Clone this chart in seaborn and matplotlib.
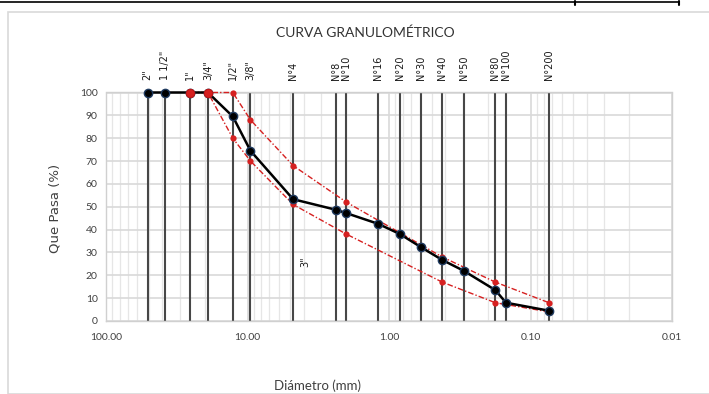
import matplotlib
matplotlib.use("Agg")
import matplotlib.pyplot as plt
import seaborn as sns
import pandas as pd
import numpy as np
from matplotlib.patches import Rectangle
from matplotlib.lines import Line2D
import matplotlib.transforms as mtransforms

# ---- data ----
sieve_labels = ['2"', '1 1/2"', '1"', '3/4"', '1/2"', '3/8"', 'N°4', 'N°8', 'N°10',
                'N°16', 'N°20', 'N°30', 'N°40', 'N°50', 'N°80', 'N°100', 'N°200']
sieve_mm = [50.8, 38.1, 25.4, 19.05, 12.7, 9.525, 4.76, 2.38, 2.0,
            1.19, 0.84, 0.59, 0.42, 0.297, 0.177, 0.149, 0.074]
passing = [100, 100, 100, 100, 89.5, 74.5, 53.3, 48.7, 47.2,
           42.5, 38.1, 32.2, 26.7, 22.0, 13.5, 8.0, 4.5]

band_mm = [25.4, 19.05, 12.7, 9.525, 4.76, 2.0, 0.42, 0.177, 0.074]
band_upper = [100, 100, 100, 88, 68, 52, 28, 17, 8]
band_lower = [100, 100, 80, 70, 51, 38, 17, 8, 4]

x_ticks = [100, 10, 1, 0.1, 0.01]
x_tick_labels = ['100.00', '10.00', '1.00', '0.10', '0.01']
y_ticks = list(range(0, 101, 10))

# ---- style ----
sns.set_theme(style="white")
plt.rcParams['font.family'] = ['Lato', 'DejaVu Sans']

W, H = 709, 394
fig = plt.figure(figsize=(W / 100, H / 100), dpi=100)
ax = fig.add_axes([106 / W, 1 - 321 / H, (672 - 106) / W, (321 - 92.5) / H])

ax.set_xscale('log')
ax.set_xlim(100, 0.01)
ax.set_ylim(0, 100)

# grids
ax.set_yticks(y_ticks)
ax.set_xticks(x_ticks)
ax.set_xticklabels(x_tick_labels)
ax.xaxis.set_minor_locator(matplotlib.ticker.LogLocator(base=10, subs=np.arange(2, 10)))
ax.xaxis.set_minor_formatter(matplotlib.ticker.NullFormatter())
ax.grid(True, which='major', axis='both', color='#d9d9d9', lw=1.2)
ax.grid(True, which='minor', axis='x', color='#e6e6e6', lw=0.9)
for s in ax.spines.values():
    s.set_color('#d0d0d0')
    s.set_linewidth(1.0)
ax.tick_params(axis='both', which='both', length=0, labelsize=7.5, colors='#404040', pad=6)
ax.tick_params(axis='x', pad=9)

# sieve vertical lines
ax.vlines(sieve_mm, 0, 100, color='#474747', lw=1.5, zorder=2)

# band lines
df_up = pd.DataFrame({'d': band_mm, 'p': band_upper})
df_lo = pd.DataFrame({'d': band_mm, 'p': band_lower})
for df in (df_up, df_lo):
    sns.lineplot(data=df, x='d', y='p', ax=ax, sort=False, color='#d62020',
                 lw=1.0, marker='o', markersize=4.5, markeredgewidth=0,
                 zorder=3, estimator=None, clip_on=False)
for l in ax.lines:
    l.set_dashes([4, 1.5, 1, 1.5])

# main curve
df_main = pd.DataFrame({'d': sieve_mm, 'p': passing})
sns.lineplot(data=df_main, x='d', y='p', ax=ax, sort=False, color='black', lw=1.8,
             marker='o', markersize=6, markeredgecolor='#1f3a5f', markeredgewidth=1.0,
             zorder=4, estimator=None, clip_on=False)
# red points overlapping at top (1" & 3/4")
ax.plot(band_mm[:2], band_upper[:2], 'o', color='#d62020', ms=6, mec='#c01818',
        mew=0.8, zorder=6, clip_on=False)

ax.set_xlabel('')
ax.set_ylabel('')

# top sieve labels
trans = mtransforms.blended_transform_factory(ax.transData, ax.transAxes)
for d, lab in zip(sieve_mm, sieve_labels):
    ax.text(d, 1.055, lab, transform=trans, rotation=90, ha='center', va='bottom',
            fontsize=7, color='#1a1a1a', family=['DejaVu Sans'])

ax.text(3.93, 26, '3"', rotation=90, ha='center', va='center', fontsize=7,
        color='#1a1a1a', family=['DejaVu Sans'])

# titles / labels
fig.text(365 / W, 1 - 33 / H, 'CURVA GRANULOMÉTRICO', ha='center', va='center',
         fontsize=10, color='#333333')
fig.text(55 / W, 1 - 208 / H, 'Que Pasa (%)', ha='center', va='center', rotation=90,
         fontsize=9.5, color='#404040', family=['DejaVu Sans'])
fig.text(318 / W, 1 - 386 / H, 'Diámetro (mm)', ha='center', va='center',
         fontsize=9.5, color='#404040')

# chart frame and document line
fig.patches.append(Rectangle((8 / W, 0), 1.0, 1 - 12 / H, transform=fig.transFigure,
                             fill=False, ec='#d9d9d9', lw=1.2, zorder=0))
fig.lines.append(Line2D([0, 679 / W], [1 - 2 / H, 1 - 2 / H], transform=fig.transFigure,
                        color='black', lw=1.2))
for xp in (575, 679):
    fig.lines.append(Line2D([xp / W, xp / W], [1 - 1 / H, 1 - 5 / H],
                            transform=fig.transFigure, color='black', lw=1.5))

fig.savefig('out.png', dpi=100)
